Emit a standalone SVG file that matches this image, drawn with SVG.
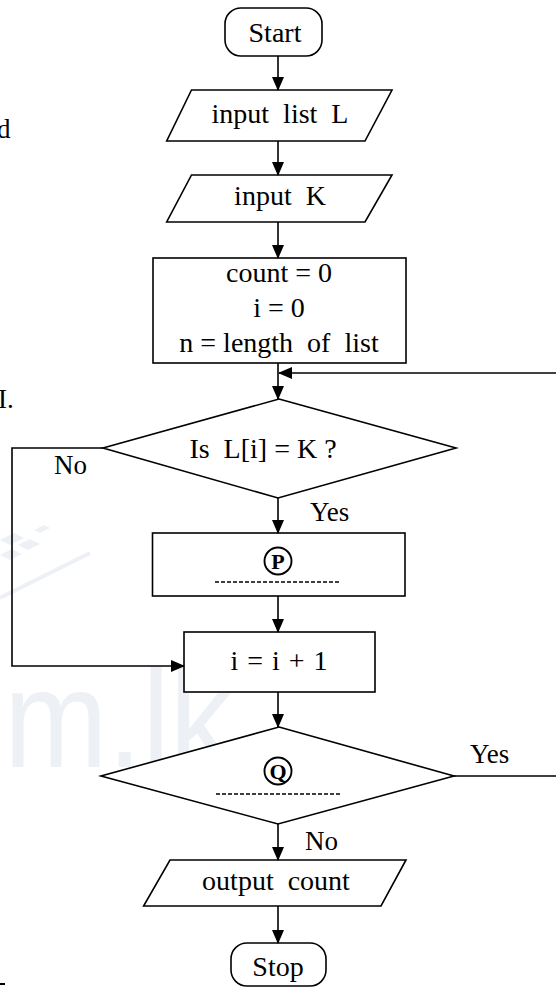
<svg xmlns="http://www.w3.org/2000/svg" width="556" height="987" viewBox="0 0 556 987">
<style>
.s{fill:#fff;stroke:#000;stroke-width:1.6}
.t{font-family:"Liberation Serif","Times New Roman",serif;font-size:28px;fill:#000;text-anchor:middle;white-space:pre}
.l{font-family:"Liberation Serif","Times New Roman",serif;font-size:27px;fill:#000}
.c{fill:none;stroke:#000;stroke-width:1.6}
.d{fill:none;stroke:#000;stroke-width:1.3;stroke-dasharray:4 2}
.b{font-family:"Liberation Serif","Times New Roman",serif;font-size:22px;font-weight:bold;fill:#000;text-anchor:middle}
.r{fill:none;stroke:#000;stroke-width:1.9}
.wm{fill:#edf0f5}
</style>
<defs>
<marker id="ah" markerUnits="userSpaceOnUse" markerWidth="14" markerHeight="14" viewBox="0 0 14 12" refX="13" refY="6" orient="auto">
<path d="M0,0 L14,6 L0,12 Z" fill="#000"/>
</marker>
</defs>
<rect width="556" height="987" fill="#fff"/>
<g id="watermark">
<text x="4" y="767" font-family="Liberation Sans, Arial, sans-serif" font-size="140" class="wm" textLength="228" lengthAdjust="spacingAndGlyphs">m.lk</text>
<path d="M0,598 L90,553" stroke="#edf0f5" stroke-width="4" fill="none"/>
<path d="M0,540 L14,533 L24,538 L10,545 Z M18,545 L30,539 L40,544 L28,550 Z M0,555 L12,549 L22,554 L10,560 Z M34,530 L44,525 L50,528 L40,533 Z" class="wm"/>
</g>
<g id="fragments">
<text class="l" x="-3" y="138">d</text>
<text class="l" x="-2" y="408">I.</text>
<rect x="0" y="983" width="5" height="2" fill="#000"/>
</g>
<g id="start">
<rect class="s" x="225" y="8" width="97" height="48" rx="16"/>
<text class="t" x="275" y="42">Start</text>
</g>
<g id="input-list">
<polygon class="s" points="191.5,90 392,90 365,141 166.7,141"/>
<text class="t" x="280" y="123">input  list  L</text>
</g>
<g id="input-k">
<polygon class="s" points="191.5,175 392,175 365,222 166.7,222"/>
<text class="t" x="280" y="205">input  K</text>
</g>
<g id="init">
<rect class="s" x="153" y="258" width="253" height="105"/>
<text class="t" x="279" y="282">count = 0</text>
<text class="t" x="279" y="317">i = 0</text>
<text class="t" x="279" y="352">n = length  of  list</text>
</g>
<g id="check">
<polygon class="s" points="279,399 456,448 278,498 103,448"/>
<text class="t" x="263" y="458">Is  L[i] = K ?</text>
</g>
<g id="p-box">
<rect class="s" x="152.5" y="533" width="252.5" height="63"/>
<circle class="r" cx="278" cy="561" r="13.5"/>
<text class="b" x="278" y="568.5">P</text>
<line class="d" x1="215" y1="582" x2="341" y2="582"/>
</g>
<g id="inc">
<rect class="s" x="184" y="632" width="191" height="60"/>
<text class="t" x="279" y="670" word-spacing="2">i = i + 1</text>
</g>
<g id="q">
<polygon class="s" points="279,727 454,776 278,824 101,776"/>
<circle class="r" cx="278" cy="771" r="13.5"/>
<text class="b" x="278" y="778.5">Q</text>
<line class="d" x1="216" y1="794" x2="342" y2="794"/>
</g>
<g id="output">
<polygon class="s" points="170,860 406,860 381,906 143.6,906"/>
<text class="t" x="276" y="890">output  count</text>
</g>
<g id="stop">
<rect class="s" x="231" y="943" width="95" height="43" rx="16"/>
<text class="t" x="278" y="976">Stop</text>
</g>
<g id="connectors">
<line class="c" x1="278" y1="56" x2="278" y2="90" marker-end="url(#ah)"/>
<line class="c" x1="278" y1="141" x2="278" y2="175" marker-end="url(#ah)"/>
<line class="c" x1="278" y1="222" x2="278" y2="258" marker-end="url(#ah)"/>
<line class="c" x1="278" y1="363" x2="278" y2="399" marker-end="url(#ah)"/>
<line class="c" x1="556" y1="373" x2="279" y2="373" marker-end="url(#ah)"/>
<line class="c" x1="278" y1="498" x2="278" y2="533" marker-end="url(#ah)"/>
<line class="c" x1="278" y1="596" x2="278" y2="632" marker-end="url(#ah)"/>
<polyline class="c" points="103,448 12,448 12,666 184,666" marker-end="url(#ah)"/>
<line class="c" x1="278" y1="692" x2="278" y2="727" marker-end="url(#ah)"/>
<line class="c" x1="454" y1="776" x2="556" y2="776"/>
<line class="c" x1="278" y1="824" x2="278" y2="860" marker-end="url(#ah)"/>
<line class="c" x1="278" y1="906" x2="278" y2="943" marker-end="url(#ah)"/>
<text class="l" x="54" y="474">No</text>
<text class="l" x="310" y="521">Yes</text>
<text class="l" x="470" y="763">Yes</text>
<text class="l" x="305" y="850">No</text>
</g>
</svg>
